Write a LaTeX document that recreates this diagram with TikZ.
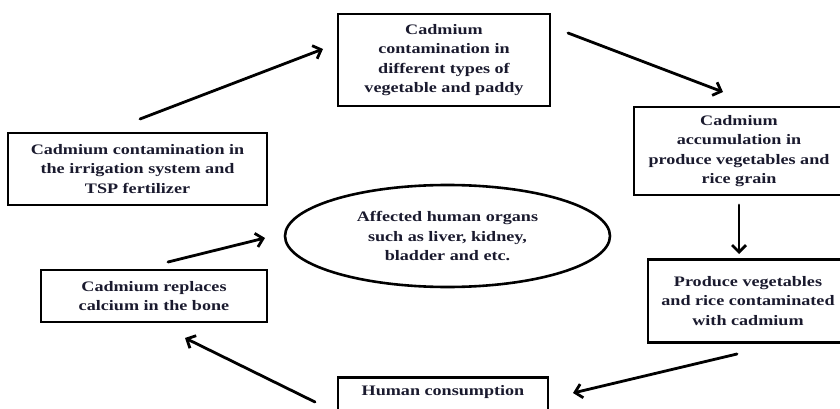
\documentclass[tikz,border=0pt]{standalone}
\usepackage{fontspec}
\setmainfont{Liberation Serif}[FakeStretch=1.25]
\usetikzlibrary{arrows.meta,shapes.geometric}
\definecolor{txt}{HTML}{1A1A2E}
\begin{document}
\begin{tikzpicture}[x=1pt,y=-1pt,
  lbl/.style={font=\bfseries\fontsize{14.5}{19.5}\selectfont, align=center, text=txt, inner sep=0pt},
  box/.style={lbl, draw, line width=2.8pt},
  arr/.style={line width=2.8pt, line cap=round, -{Straight Barb[length=7pt,width=14pt]}}]
\useasboundingbox (0,0) rectangle (840,409);
\clip (0,0) rectangle (840,409);
\fill[white] (0,0) rectangle (840,409);

\node[box, minimum width=212pt, minimum height=92pt] (b1) at (444,60)
  {Cadmium\\contamination in\\different types of\\vegetable and paddy};
\node[box, minimum width=210pt, minimum height=88pt] (b2) at (739,151)
  {Cadmium\\accumulation in\\produce vegetables and\\rice grain};
\node[box, minimum width=200pt, minimum height=83pt] (b3) at (748,301)
  {Produce vegetables\\and rice contaminated\\with cadmium};
\node[box, minimum width=210pt, minimum height=60pt, anchor=north] (b4) at (443,376) {};
\node[lbl] (t4) at (443,392) {Human consumption};
\node[box, minimum width=226pt, minimum height=52pt] (b6) at (154,296)
  {Cadmium replaces\\calcium in the bone};
\node[box, minimum width=259pt, minimum height=72pt] (b5) at (137.5,169)
  {Cadmium contamination in\\the irrigation system and\\TSP fertilizer};
\node[lbl, draw, ellipse, line width=2.6pt, minimum width=325pt, minimum height=102pt] (el) at (447.5,236)
  {Affected human organs\\such as liver, kidney,\\bladder and etc.};

\coordinate (a1s) at (140,119); \coordinate (a1e) at (323,49);
\coordinate (a2s) at (568,33);  \coordinate (a2e) at (723,92);
\coordinate (a3s) at (739,205); \coordinate (a3e) at (739,254);
\coordinate (a4s) at (737,354); \coordinate (a4e) at (573,393);
\coordinate (a5s) at (315,402); \coordinate (a5e) at (185,338);
\coordinate (a6s) at (168,262); \coordinate (a6e) at (265,238);

\draw[arr] (a1s) -- (a1e);
\draw[arr] (a2s) -- (a2e);
\draw[arr] (a3s) -- (a3e);
\draw[arr] (a4s) -- (a4e);
\draw[arr] (a5s) -- (a5e);
\draw[arr] (a6s) -- (a6e);
\end{tikzpicture}
\end{document}
